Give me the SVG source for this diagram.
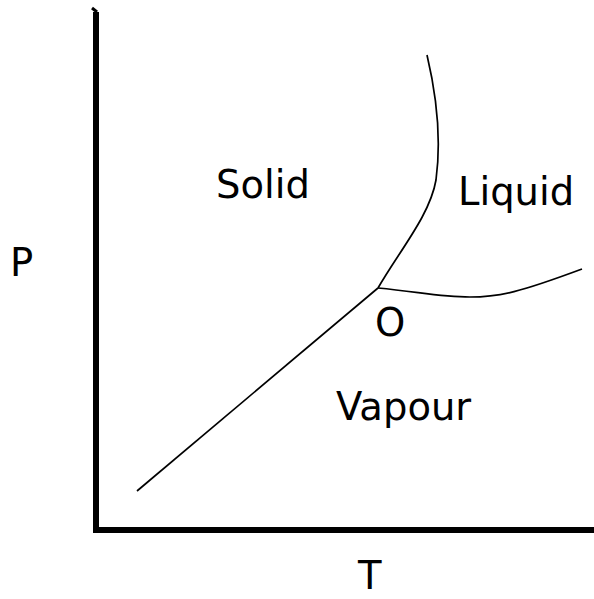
<svg xmlns="http://www.w3.org/2000/svg" width="594" height="599" viewBox="0 0 594 599">
<style>
.lbl{font-family:"DejaVu Sans",Verdana,sans-serif;font-size:38.5px;fill:#000}
.curve{fill:none;stroke:#000;stroke-width:1.7}
.axis{fill:none;stroke:#000;stroke-width:6}
</style>
<rect width="594" height="599" fill="#fff"/>
<g id="axes">
<path class="axis" d="M96,12 V530 H594"/>
<path d="M92,8 L97,12" stroke="#000" stroke-width="3"/>
</g>
<g id="connectors">
<path class="curve" d="M137,491 L378,288"/>
<path class="curve" d="M378,288 C400,250 430,215 436,180 C440,150 440,110 427,55"/>
<path class="curve" d="M378,288 C420,292 440,297 470,297 C500,297 520,292 582,269"/>
</g>
<g id="solid"><text class="lbl" x="216" y="198">Solid</text></g>
<g id="liquid"><text class="lbl" x="458" y="205">Liquid</text></g>
<g id="vapour"><text class="lbl" x="336" y="420">Vapour</text></g>
<g id="o"><text class="lbl" x="375" y="336">O</text></g>
<g id="p"><text class="lbl" x="10" y="276">P</text></g>
<g id="t"><text class="lbl" x="358" y="589">T</text></g>
</svg>
